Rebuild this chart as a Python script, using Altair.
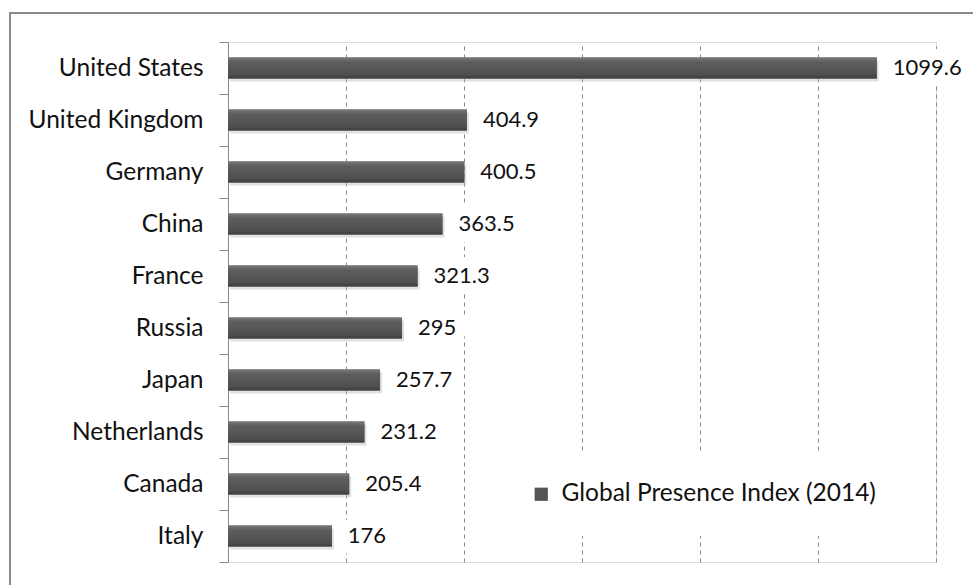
import altair as alt
import pandas as pd

countries = ["United States", "United Kingdom", "Germany", "China", "France",
             "Russia", "Japan", "Netherlands", "Canada", "Italy"]
values = [1099.6, 404.9, 400.5, 363.5, 321.3, 295, 257.7, 231.2, 205.4, 176]
series_name = "Global Presence Index (2014)"
grid_values = [200, 400, 600, 800, 1000, 1200]

df = pd.DataFrame({"Country": countries, "Value": values,
                   "Series": [series_name] * len(countries)})

FONT = "Lato"
FS_AXIS = 24.5
FS_VAL = 22
FS_LEG = 24.5
BAR_BAND = {"band": 0.4}

xenc = alt.X("Value:Q", scale=alt.Scale(domain=[0, 1200], nice=False),
             axis=alt.Axis(values=grid_values, grid=True, labels=False, ticks=False,
                           domain=False, title=None, gridDash=[4, 4],
                           gridColor="#8a8a8a", gridWidth=1))
yenc = alt.Y("Country:N", sort=countries,
             scale=alt.Scale(paddingInner=0, paddingOuter=0),
             axis=alt.Axis(title=None, tickBand="extent", tickSize=9,
                           tickColor="#8a8a8a", domainColor="#8a8a8a",
                           labelFont=FONT, labelFontSize=FS_AXIS, labelColor="#111111",
                           labelPadding=16, grid=False))
ysimple = alt.Y("Country:N", sort=countries)

base = alt.Chart(df)

shadow = base.mark_bar(color="#bdbdbd", opacity=0.45, xOffset=2, yOffset=3,
                       height=BAR_BAND).encode(x=xenc, y=yenc)

mask = base.mark_text(align="left", baseline="middle", dx=16, font=FONT, fontSize=FS_VAL,
                      color="white", stroke="white", strokeWidth=22,
                      strokeJoin="round").encode(
    x="Value:Q", y=ysimple, text="Value:N")

bar_base = base.mark_bar(height=BAR_BAND).encode(
    x=xenc, y=yenc,
    color=alt.Color("Series:N", scale=alt.Scale(range=["#555555"]),
                    legend=alt.Legend(title=None, orient="none", legendX=271, legendY=410,
                                      fillColor="white", padding=30,
                                      symbolType="square", symbolSize=175,
                                      symbolStrokeWidth=0, labelLimit=0,
                                      labelFont=FONT, labelFontSize=FS_LEG,
                                      labelColor="#111111", labelOffset=8)))

grad = alt.Gradient(
    gradient="linear", x1=0, x2=0, y1=0, y2=1,
    stops=[alt.GradientStop(color="#7a7a7a", offset=0),
           alt.GradientStop(color="#5e5e5e", offset=0.2),
           alt.GradientStop(color="#505050", offset=0.8),
           alt.GradientStop(color="#3e3e3e", offset=1)])
bar_grad = base.mark_bar(color=grad, height=BAR_BAND).encode(x="Value:Q", y=ysimple)

labels = base.mark_text(align="left", baseline="middle", dx=16, font=FONT, fontSize=FS_VAL,
                        color="#111111").encode(
    x="Value:Q", y=ysimple, text="Value:N")

frame = alt.Chart(pd.DataFrame({"f": [0]})).mark_rect(
    fill="white", fillOpacity=0, stroke="#8a8a8a", strokeWidth=2).encode(
    x=alt.value(-218), x2=alt.value(770), y=alt.value(-29), y2=alt.value(580))

chart = alt.layer(shadow, mask, bar_base, bar_grad, labels, frame).properties(
    width=708, height=520,
    autosize=alt.AutoSizeParams(type="none"),
    padding={"left": 228, "top": 42, "right": 37, "bottom": 23},
).configure_view(stroke=None).configure(background="white")

chart.save("out.html", embed_options={"renderer": "svg", "actions": False})
